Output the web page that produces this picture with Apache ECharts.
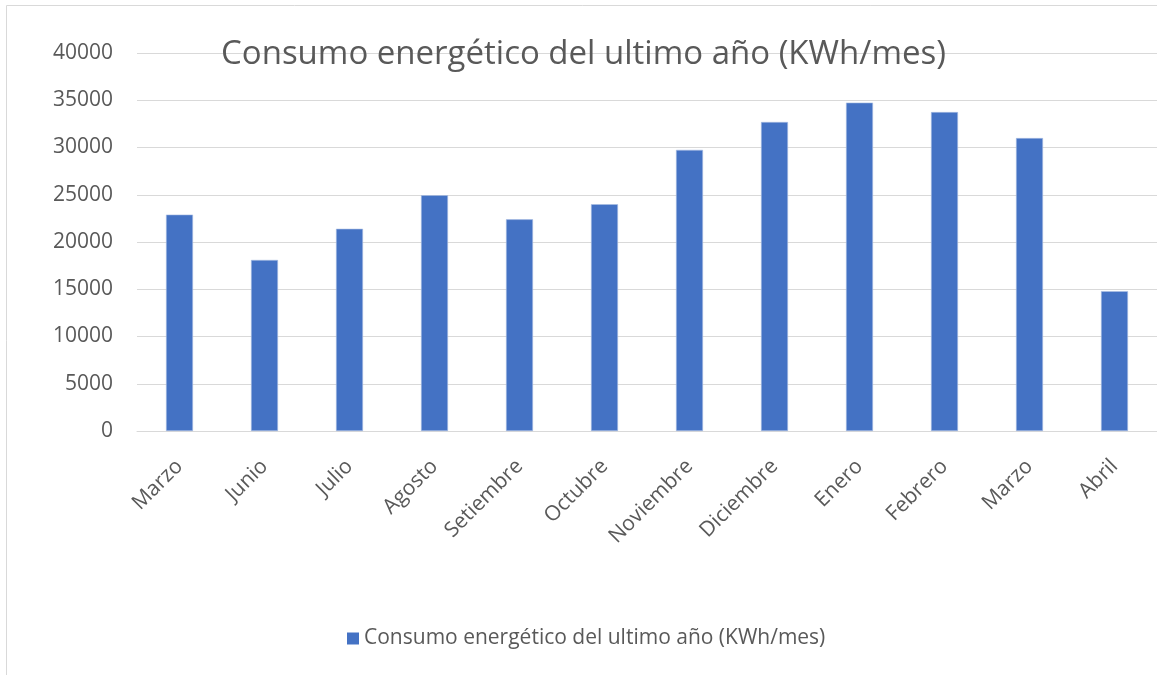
<!DOCTYPE html>
<html>
<head>
<meta charset="utf-8">
<script src="https://cdn.jsdelivr.net/npm/echarts@6/dist/echarts.min.js"></script>
<style>
  html, body { margin: 0; padding: 0; background: #fff; overflow: hidden; }
  #chart { width: 1157px; height: 675px; }
</style>
</head>
<body>
<div id="chart"></div>
<script>
// meses y consumo (KWh/mes)
var meses = ['Marzo', 'Junio', 'Julio', 'Agosto', 'Setiembre', 'Octubre', 'Noviembre', 'Diciembre', 'Enero', 'Febrero', 'Marzo', 'Abril'];
var consumo = [22900, 18100, 21400, 24950, 22400, 24000, 29750, 32700, 34750, 33750, 31000, 14800];
var serieNombre = 'Consumo energético del ultimo año (KWh/mes)';

var fuente = '"Open Sans", sans-serif';
var gris = '#595959';

var myChart = echarts.init(document.getElementById('chart'));
var option = {
  animation: false,
  title: {
    text: serieNombre,
    left: 216,
    top: 33,
    textStyle: { fontFamily: fuente, fontSize: 33, fontWeight: 'normal', color: gris }
  },
  legend: {
    bottom: 21,
    left: 342,
    itemWidth: 12,
    itemHeight: 12,
    icon: 'rect',
    itemStyle: { borderWidth: 0 },
    textStyle: { fontFamily: fuente, fontSize: 21, color: gris }
  },
  // borde del area del grafico
  graphic: [{
    type: 'rect',
    silent: true,
    shape: { x: 6.5, y: 5.5, width: 1200, height: 700 },
    style: { fill: 'none', stroke: '#d9d9d9', lineWidth: 1 }
  }],
  grid: { left: 137, right: -1, top: 53, bottom: 244, containLabel: false },
  xAxis: {
    type: 'category',
    data: meses,
    axisTick: { show: false },
    axisLine: { lineStyle: { color: '#d9d9d9' } },
    axisLabel: {
      rotate: 45,
      margin: 32,
      interval: 0,
      fontFamily: fuente,
      fontSize: 21,
      color: gris
    }
  },
  yAxis: {
    type: 'value',
    min: 0,
    max: 40000,
    interval: 5000,
    axisLine: { show: false },
    axisTick: { show: false },
    splitLine: { lineStyle: { color: '#d9d9d9' } },
    axisLabel: {
      margin: 24,
      fontFamily: fuente,
      fontSize: 21,
      color: gris,
      formatter: function (v) { return String(v); }
    }
  },
  series: [{
    name: serieNombre,
    type: 'bar',
    barWidth: 27,
    data: consumo,
    itemStyle: { color: '#4472C4', borderColor: '#a9bde3', borderWidth: 0.6 }
  }]
};
myChart.setOption(option);
</script>
</body>
</html>
